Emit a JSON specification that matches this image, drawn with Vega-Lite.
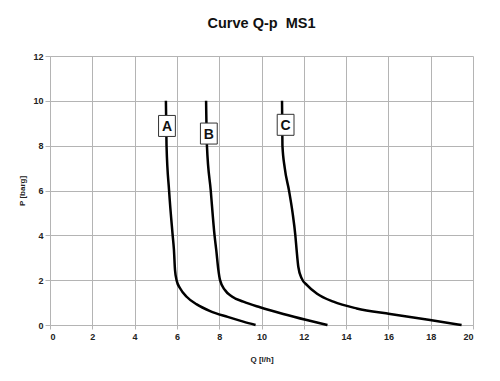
{
  "$schema": "https://vega.github.io/schema/vega-lite/v6.json",
  "width": 423,
  "height": 269,
  "autosize": {"type": "none"},
  "padding": {"left": 50, "top": 56, "right": 27, "bottom": 56},
  "background": "white",
  "title": {
    "text": "Curve Q-p\u00a0 MS1",
    "font": "Liberation Sans",
    "fontSize": 14.5,
    "fontWeight": "bold",
    "color": "#111",
    "anchor": "middle",
    "offset": 21
  },
  "datasets": {
    "curves": [
      {"s": "A", "Q": 5.48, "P": 10},
      {"s": "A", "Q": 5.51, "P": 8},
      {"s": "A", "Q": 5.63, "P": 6},
      {"s": "A", "Q": 5.8, "P": 4},
      {"s": "A", "Q": 5.86, "P": 3.35},
      {"s": "A", "Q": 5.91, "P": 2.46},
      {"s": "A", "Q": 5.99, "P": 1.98},
      {"s": "A", "Q": 6.15, "P": 1.64},
      {"s": "A", "Q": 6.46, "P": 1.26},
      {"s": "A", "Q": 6.94, "P": 0.92},
      {"s": "A", "Q": 7.57, "P": 0.62},
      {"s": "A", "Q": 8.4, "P": 0.36},
      {"s": "A", "Q": 9.14, "P": 0.15},
      {"s": "A", "Q": 9.72, "P": 0},
      {"s": "B", "Q": 7.38, "P": 10},
      {"s": "B", "Q": 7.42, "P": 8},
      {"s": "B", "Q": 7.6, "P": 6},
      {"s": "B", "Q": 7.78, "P": 4},
      {"s": "B", "Q": 7.86, "P": 3.35},
      {"s": "B", "Q": 7.96, "P": 2.46},
      {"s": "B", "Q": 8.04, "P": 2.0},
      {"s": "B", "Q": 8.27, "P": 1.56},
      {"s": "B", "Q": 8.6, "P": 1.27},
      {"s": "B", "Q": 9.14, "P": 1.04},
      {"s": "B", "Q": 9.93, "P": 0.79},
      {"s": "B", "Q": 11.03, "P": 0.49},
      {"s": "B", "Q": 12.14, "P": 0.22},
      {"s": "B", "Q": 13.12, "P": 0},
      {"s": "C", "Q": 10.97, "P": 10},
      {"s": "C", "Q": 10.99, "P": 8},
      {"s": "C", "Q": 11.1, "P": 7},
      {"s": "C", "Q": 11.3, "P": 6},
      {"s": "C", "Q": 11.47, "P": 5},
      {"s": "C", "Q": 11.6, "P": 4},
      {"s": "C", "Q": 11.66, "P": 3.35},
      {"s": "C", "Q": 11.74, "P": 2.6},
      {"s": "C", "Q": 11.9, "P": 2.08},
      {"s": "C", "Q": 12.14, "P": 1.79},
      {"s": "C", "Q": 12.61, "P": 1.41},
      {"s": "C", "Q": 13.4, "P": 1.04},
      {"s": "C", "Q": 14.5, "P": 0.74},
      {"s": "C", "Q": 16.08, "P": 0.49},
      {"s": "C", "Q": 17.97, "P": 0.22},
      {"s": "C", "Q": 19.46, "P": 0}
    ],
    "labels": [
      {"lab": "A", "Q": 5.53, "P": 8.88},
      {"lab": "B", "Q": 7.51, "P": 8.54},
      {"lab": "C", "Q": 11.14, "P": 8.93}
    ]
  },
  "config": {
    "view": {"stroke": null},
    "axis": {
      "labelFont": "Liberation Sans",
      "labelFontSize": 9,
      "labelFontWeight": "bold",
      "labelColor": "#222",
      "titleFont": "Liberation Sans",
      "titleFontSize": 8,
      "titleFontWeight": "bold",
      "titleColor": "#222",
      "gridColor": "#b4b4b4",
      "gridWidth": 1,
      "gridOpacity": 1,
      "domainColor": "#b4b4b4",
      "tickColor": "#b4b4b4",
      "tickSize": 5
    }
  },
  "layer": [
    {
      "data": {"name": "curves"},
      "mark": {"type": "line", "color": "black", "strokeWidth": 2.5, "interpolate": "monotone"},
      "encoding": {
        "x": {
          "field": "Q", "type": "quantitative",
          "scale": {"domain": [0, 20], "nice": false},
          "axis": {"values": [0, 2, 4, 6, 8, 10, 12, 14, 16, 18, 20], "title": "Q [l/h]", "titlePadding": 14, "labelPadding": 3, "tickSize": 4}
        },
        "y": {
          "field": "P", "type": "quantitative",
          "scale": {"domain": [0, 12], "nice": false},
          "axis": {"values": [0, 2, 4, 6, 8, 10, 12], "title": "P [barg]", "titlePadding": 6, "labelPadding": 2}
        },
        "detail": {"field": "s"}
      }
    },
    {
      "data": {"name": "labels"},
      "mark": {"type": "point", "shape": "M-0.8,-1H0.8V1H-0.8Z", "size": 441, "filled": true, "fill": "white", "stroke": "#333", "strokeWidth": 1, "opacity": 1},
      "encoding": {
        "x": {"field": "Q", "type": "quantitative"},
        "y": {"field": "P", "type": "quantitative"}
      }
    },
    {
      "data": {"name": "labels"},
      "mark": {"type": "text", "font": "Liberation Sans", "fontSize": 14, "fontWeight": "bold", "color": "#111", "baseline": "middle", "align": "center", "dy": 1},
      "encoding": {
        "x": {"field": "Q", "type": "quantitative"},
        "y": {"field": "P", "type": "quantitative"},
        "text": {"field": "lab"}
      }
    }
  ]
}
